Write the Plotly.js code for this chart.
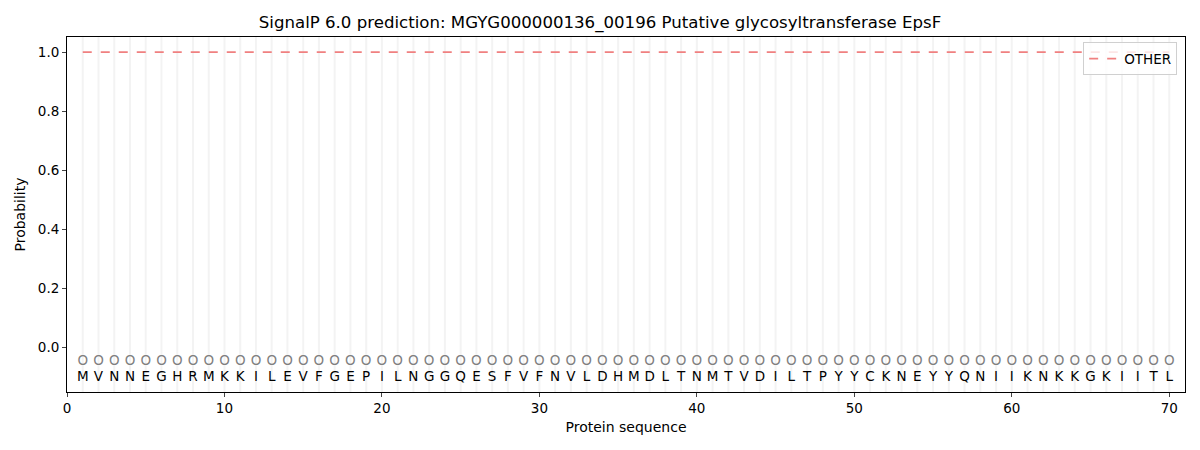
<!DOCTYPE html>
<html>
<head>
<meta charset="utf-8">
<script src="https://cdn.plot.ly/plotly-3.0.1.min.js"></script>
<style>body{margin:0;padding:0;background:#fff}#chart{width:1200px;height:450px}</style>
</head>
<body>
<div id="chart"></div>
<script>
const sequence = "MVNNEGHRMKKILEVFGEPILNGGQESFVFNVLDHMDLTNMTVDILTPYYCKNEYYQNIIKNKKGKIITL".split("");
const positions = sequence.map((_, i) => i + 1);
const otherProb = positions.map(() => 1.0);
const predictedLabels = positions.map(() => "O");
const xTicks = [0, 10, 20, 30, 40, 50, 60, 70];
const yTicks = [0.0, 0.2, 0.4, 0.6, 0.8, 1.0];

const FONT = "DejaVu Sans, sans-serif";

const gridX = [], gridY = [];
positions.forEach(p => { gridX.push(p, p, null); gridY.push(-0.2, 1.1, null); });

const traces = [
  {x: gridX, y: gridY, mode: "lines", line: {color: "rgba(215,215,215,0.3)", width: 2}, hoverinfo: "skip", showlegend: false},
  {x: positions, y: otherProb, mode: "lines", name: "OTHER", line: {color: "#f08080", width: 1.8, dash: "dash"}},
  {x: positions, y: positions.map(() => -0.05), mode: "text", text: predictedLabels, textfont: {family: FONT, size: 13.5, color: "#808080"}, showlegend: false, hoverinfo: "skip"},
  {x: positions, y: positions.map(() => -0.105), mode: "text", text: sequence, textfont: {family: FONT, size: 13.5, color: "#000"}, showlegend: false, hoverinfo: "skip"}
];

const layout = {
  width: 1200, height: 450,
  margin: {l: 67, r: 15, t: 37, b: 58},
  paper_bgcolor: "#fff", plot_bgcolor: "#fff",
  font: {family: FONT, size: 13.5, color: "#000"},
  title: {text: "SignalP 6.0 prediction: MGYG000000136_00196 Putative glycosyltransferase EpsF", font: {family: FONT, size: 16.6}, x: 0.5, xanchor: "center", y: 0.95, yanchor: "middle"},
  xaxis: {range: [0, 71], tickvals: xTicks, ticks: "outside", ticklen: 4, showgrid: false, zeroline: false, showline: true, linecolor: "#000", linewidth: 1, mirror: true,
          tickfont: {family: FONT, size: 13.5},
          title: {text: "Protein sequence", font: {family: FONT, size: 14}, standoff: 6}},
  yaxis: {range: [-0.1525, 1.051], tickvals: yTicks, tickformat: ".1f", ticks: "outside", ticklen: 4, showgrid: false, zeroline: false, showline: true, linecolor: "#000", linewidth: 1, mirror: true,
          tickfont: {family: FONT, size: 13.5},
          title: {text: "Probability", font: {family: FONT, size: 14}, standoff: 8}},
  legend: {x: 0.993, y: 0.985, xanchor: "right", yanchor: "top", bgcolor: "rgba(255,255,255,0.8)", bordercolor: "#d0d0d0", borderwidth: 1, font: {family: FONT, size: 13.5}}
};

Plotly.newPlot("chart", traces, layout, {displayModeBar: false, staticPlot: true});
</script>
</body>
</html>
